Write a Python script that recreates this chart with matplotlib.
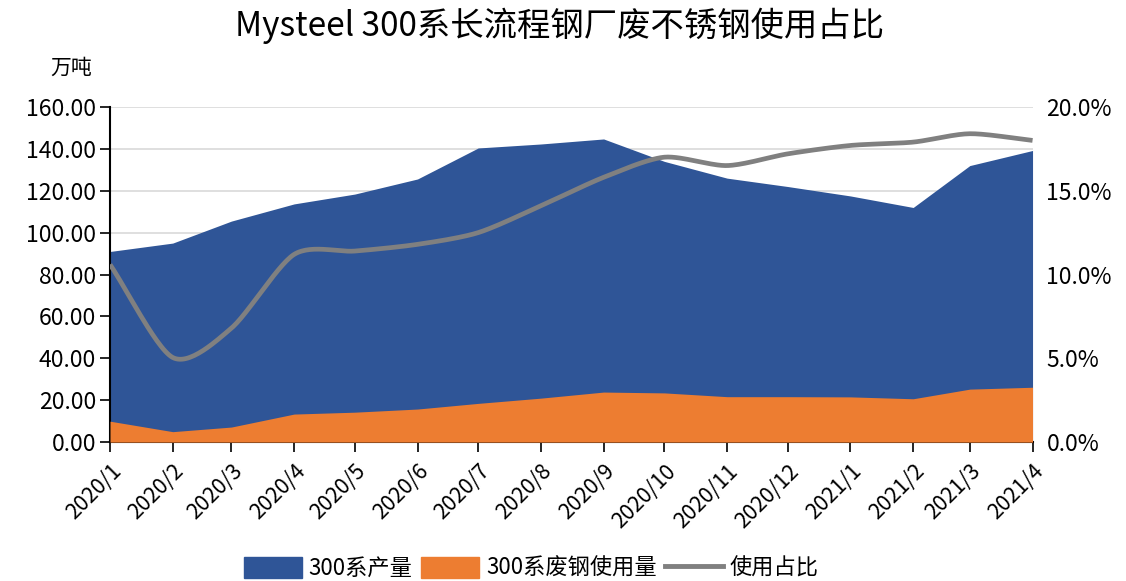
import numpy as np
import pandas as pd
import matplotlib
matplotlib.use("Agg")
import matplotlib.pyplot as plt
import matplotlib.dates as mdates
from matplotlib.patches import Patch
from matplotlib.lines import Line2D
from matplotlib.ticker import FuncFormatter

plt.rcParams['font.family'] = ['Noto Sans CJK SC', 'DejaVu Sans']

months = ["2020/1", "2020/2", "2020/3", "2020/4", "2020/5", "2020/6", "2020/7",
          "2020/8", "2020/9", "2020/10", "2020/11", "2020/12", "2021/1",
          "2021/2", "2021/3", "2021/4"]
output_300 = [91, 95, 105.5, 113.7, 118.4, 125.6, 140.4, 142.3, 144.7, 134,
              126, 122, 117.5, 112, 132, 139.2]
scrap_300 = [10, 5, 7.2, 13.4, 14.3, 15.8, 18.5, 21, 23.9, 23.5,
             21.7, 21.7, 21.6, 20.7, 25.3, 26.2]
share_pct = [10.6, 5.05, 6.8, 11.2, 11.4, 11.8, 12.5, 14.1, 15.8, 17.0,
             16.5, 17.2, 17.7, 17.9, 18.4, 18.0]

BLUE = "#2F5597"
ORANGE = "#ED7D31"
GREY = "#808080"

dates = pd.to_datetime([m + "/1" for m in months], format="%Y/%m/%d")
xnum = mdates.date2num(dates)


def smooth(x, y, n=30, k=0.8):
    """Catmull-Rom style curve through the points (like Excel's smoothed line)"""
    x = np.asarray(x, float)
    y = np.asarray(y, float)
    px = np.concatenate([[2 * x[0] - x[1]], x, [2 * x[-1] - x[-2]]])
    py = np.concatenate([[2 * y[0] - y[1]], y, [2 * y[-1] - y[-2]]])
    t = np.linspace(0, 1, n)
    h00 = 2 * t**3 - 3 * t**2 + 1
    h10 = t**3 - 2 * t**2 + t
    h01 = -2 * t**3 + 3 * t**2
    h11 = t**3 - t**2
    xs, ys = [], []
    for i in range(1, len(px) - 2):
        for p, out in ((px, xs), (py, ys)):
            m1 = k * 0.5 * (p[i + 1] - p[i - 1])
            m2 = k * 0.5 * (p[i + 2] - p[i])
            out.append(h00 * p[i] + h10 * m1 + h01 * p[i + 1] + h11 * m2)
    return np.concatenate(xs), np.concatenate(ys)


fig = plt.figure(figsize=(11.26, 5.81), dpi=100)
ax = fig.add_axes([0.0977, 0.239, 0.8193, 0.577])
ax2 = ax.twinx()

ax.fill_between(xnum, output_300, 0, color=BLUE, lw=0, zorder=2)
ax.fill_between(xnum, scrap_300, 0, color=ORANGE, lw=0, zorder=3)
ax.set_ylim(0, 160)
ax.set_yticks(np.arange(0, 161, 20))
ax.yaxis.set_major_formatter(FuncFormatter(lambda v, p: f"{v:.2f}"))
ax.grid(axis="y", color="#D9D9D9", lw=1.2, zorder=0)
ax.set_axisbelow(True)

sx, sy = smooth(xnum, share_pct)
ax2.plot(sx, sy, color=GREY, lw=3.4, solid_capstyle="butt", zorder=4)
ax2.set_ylim(0, 20)
ax2.set_yticks(np.arange(0, 20.1, 5))
ax2.yaxis.set_major_formatter(FuncFormatter(lambda v, p: f"{v:.1f}%"))

ax.set_xlim(xnum[0], xnum[-1])
ax.set_xticks(xnum)
ax.set_xticklabels(months, rotation=45, ha="right", rotation_mode="anchor",
                   fontsize=15.5)

for a in (ax, ax2):
    for s in ("top", "right"):
        a.spines[s].set_visible(False)
ax2.spines["left"].set_visible(False)
ax2.spines["bottom"].set_visible(False)
ax.spines["left"].set_linewidth(1.5)
ax.spines["bottom"].set_linewidth(1.5)
ax.tick_params(axis="x", length=7, width=1.2, pad=6)
ax.tick_params(axis="y", length=7, width=1.2, labelsize=16.5, pad=3)
ax2.tick_params(axis="y", length=0, labelsize=16.5, pad=10)

fig.text(0.497, 0.955, "Mysteel 300系长流程钢厂废不锈钢使用占比",
         ha="center", va="center", fontsize=24)
fig.text(0.063, 0.883, "万吨", ha="center", va="center", fontsize=15)

handles = [Patch(color=BLUE, label="300系产量"),
           Patch(color=ORANGE, label="300系废钢使用量"),
           Line2D([0], [0], color=GREY, lw=3.5, label="使用占比")]
fig.legend(handles=handles, loc="center", bbox_to_anchor=(0.472, 0.022),
           ncol=3, frameon=False, fontsize=16, handlelength=2.6,
           handleheight=1.1, columnspacing=0.4, handletextpad=0.3)

fig.savefig("out.png", dpi=100)
